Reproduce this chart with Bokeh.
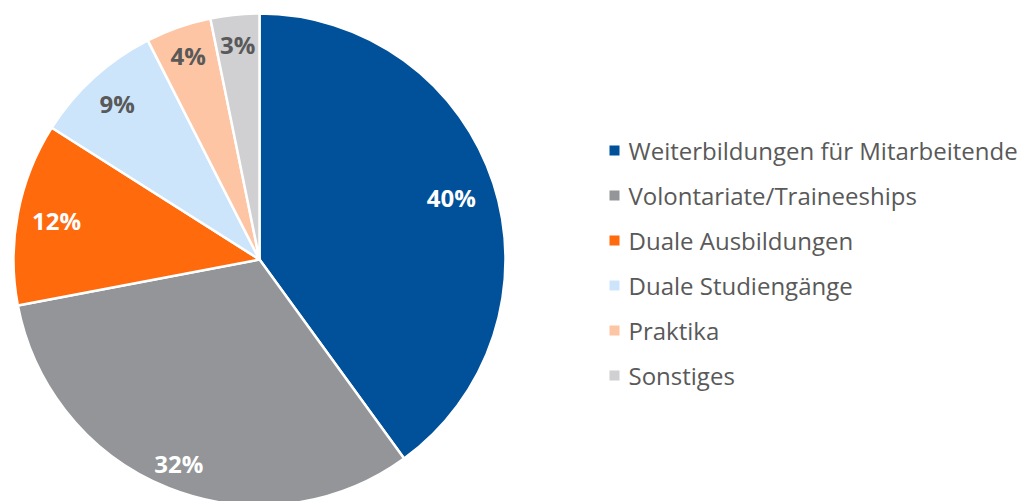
import math
from bokeh.plotting import figure
from bokeh.models import Range1d, ColumnDataSource
from bokeh.core.properties import value
from bokeh.embed import file_html
from bokeh.resources import INLINE

categories = ["Weiterbildungen für Mitarbeitende", "Volontariate/Traineeships",
              "Duale Ausbildungen", "Duale Studiengänge", "Praktika", "Sonstiges"]
values = [40, 32, 12, 8.5, 4.3, 3.2]
labels = ["40%", "32%", "12%", "9%", "4%", "3%"]

colors = ["#00519A", "#939598", "#FF6A0D", "#CCE5FB", "#FDC5A3", "#D0CFD1"]
label_colors = ["white", "white", "white", "#595959", "#595959", "#595959"]
label_r = [0.82, 0.89, 0.84, 0.86, 0.88, 0.88]

W, H = 1023, 501
cx, cy, R = 259, H - 259, 246

p = figure(width=W, height=H, output_backend="svg", toolbar_location=None,
           x_range=Range1d(0, W), y_range=Range1d(0, H), min_border=0)
p.axis.visible = False
p.grid.visible = False
p.outline_line_color = None

total = sum(values)
starts, ends, lx, ly = [], [], [], []
cum = 0.0
for v, fr in zip(values, label_r):
    a0 = cum / total * 2 * math.pi
    cum += v
    a1 = cum / total * 2 * math.pi
    starts.append(math.pi / 2 - a0)
    ends.append(math.pi / 2 - a1)
    mid = (a0 + a1) / 2
    lx.append(cx + fr * R * math.sin(mid))
    ly.append(cy + fr * R * math.cos(mid))

src = ColumnDataSource(dict(start=starts, end=ends, color=colors, lx=lx, ly=ly,
                            label=labels, lc=label_colors))
p.wedge(x=cx, y=cy, radius=R, start_angle="start", end_angle="end", direction="clock",
        fill_color="color", line_color="white", line_width=2.5, source=src)
p.text(x="lx", y="ly", text="label", text_color="lc", text_align="center",
       text_baseline="middle", text_font=value("Open Sans"), text_font_style="bold",
       text_font_size=value("24px"), source=src)

# legend
ly0 = H - 150
step = 45
leg_y = [ly0 - i * step for i in range(len(categories))]
leg = ColumnDataSource(dict(y=leg_y, name=categories, color=colors))
p.rect(x=614, y="y", width=10, height=10, fill_color="color", line_color=None, source=leg)
p.text(x=628, y="y", text="name", text_color="#595959", text_align="left",
       text_baseline="middle", text_font=value("Open Sans"),
       text_font_size=value("24px"), source=leg)

open("out.html", "w").write(file_html(p, INLINE))
